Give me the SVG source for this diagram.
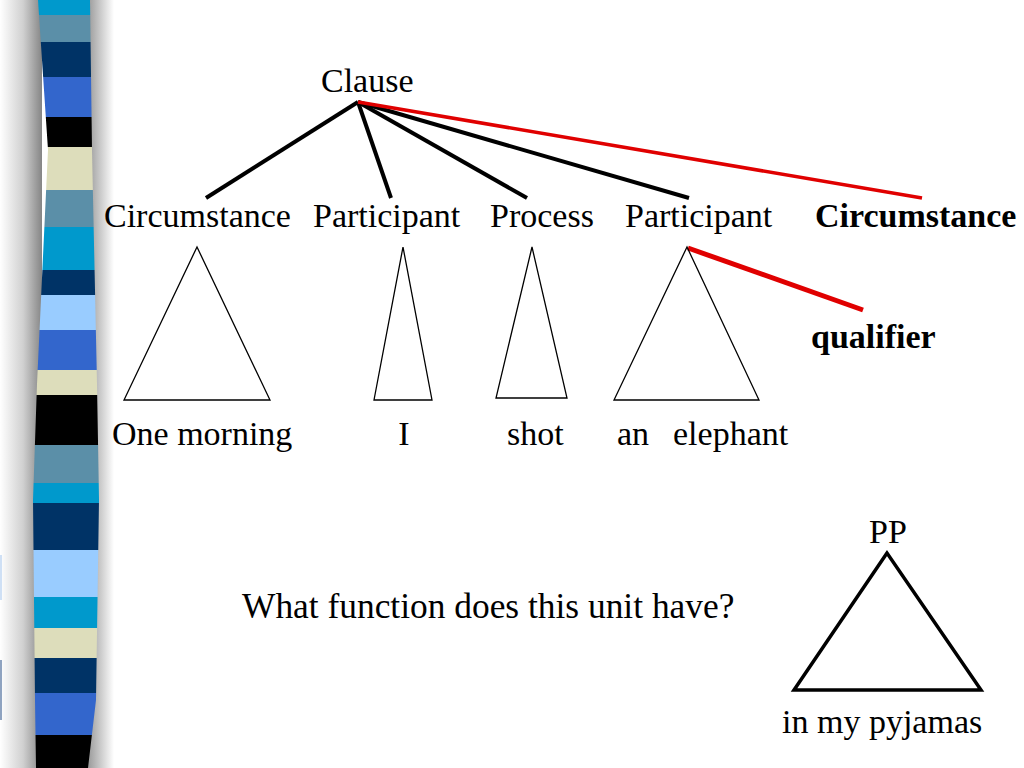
<svg xmlns="http://www.w3.org/2000/svg" width="1024" height="768" viewBox="0 0 1024 768">
<defs>
<style>
text{font-family:"Liberation Serif","Times New Roman","DejaVu Serif",serif;font-size:34px;fill:#000}
.b{font-weight:bold}
.edge{stroke:#000;stroke-width:4;fill:none;stroke-linecap:butt}
.red{stroke:#e00000;fill:none}
.tri{stroke:#000;stroke-width:1.3;fill:none;stroke-linejoin:miter}
</style>
<linearGradient id="shL" x1="0" y1="0" x2="1" y2="0">
<stop offset="0" stop-color="#ffffff"/>
<stop offset="0.55" stop-color="#d0d0d0"/>
<stop offset="1" stop-color="#858585"/>
</linearGradient>
<linearGradient id="shR" x1="0" y1="0" x2="1" y2="0">
<stop offset="0" stop-color="#9a9a9a"/>
<stop offset="1" stop-color="#ffffff"/>
</linearGradient>
<clipPath id="barClip">
<path d="M38,0 L90,0 L92,150 L97,384 L99,500 L96,700 L88,768 L36,768 L35,700 L33,500 L37,384 L48,150 Z"/>
</clipPath>
</defs>
<rect width="1024" height="768" fill="#ffffff"/>
<g id="bar">
<rect x="0" y="0" width="42" height="768" fill="url(#shL)"/>
<rect x="88" y="0" width="26" height="768" fill="url(#shR)"/>
<rect x="0" y="555" width="2" height="45" fill="#cfe0f5"/>
<rect x="0" y="660" width="2" height="60" fill="#8fa3c0"/>
<g clip-path="url(#barClip)">
<rect x="0" y="0" width="120" height="15" fill="#0099cc"/>
<rect x="0" y="15" width="120" height="27" fill="#5b8fa8"/>
<rect x="0" y="42" width="120" height="35" fill="#003366"/>
<rect x="0" y="77" width="120" height="40" fill="#3366cc"/>
<rect x="0" y="117" width="120" height="30" fill="#000000"/>
<rect x="0" y="147" width="120" height="43" fill="#ddddbb"/>
<rect x="0" y="190" width="120" height="37" fill="#5b8fa8"/>
<rect x="0" y="227" width="120" height="43" fill="#0099cc"/>
<rect x="0" y="270" width="120" height="25" fill="#003366"/>
<rect x="0" y="295" width="120" height="35" fill="#99ccff"/>
<rect x="0" y="330" width="120" height="40" fill="#3366cc"/>
<rect x="0" y="370" width="120" height="25" fill="#ddddbb"/>
<rect x="0" y="395" width="120" height="50" fill="#000000"/>
<rect x="0" y="445" width="120" height="38" fill="#5b8fa8"/>
<rect x="0" y="483" width="120" height="20" fill="#0099cc"/>
<rect x="0" y="503" width="120" height="47" fill="#003366"/>
<rect x="0" y="550" width="120" height="47" fill="#99ccff"/>
<rect x="0" y="597" width="120" height="31" fill="#0099cc"/>
<rect x="0" y="628" width="120" height="30" fill="#ddddbb"/>
<rect x="0" y="658" width="120" height="35" fill="#003366"/>
<rect x="0" y="693" width="120" height="42" fill="#3366cc"/>
<rect x="0" y="735" width="120" height="33" fill="#000000"/>
</g>
</g>
<g id="connectors">
<line class="edge" x1="358" y1="102" x2="206" y2="198"/>
<line class="edge" x1="358" y1="102" x2="391" y2="198"/>
<line class="edge" x1="358" y1="102" x2="527" y2="198"/>
<line class="edge" x1="358" y1="102" x2="689" y2="198"/>
<line class="red" stroke-width="3.5" x1="358" y1="102" x2="922" y2="198"/>
<line class="red" stroke-width="5" x1="688" y1="248" x2="863" y2="310"/>
</g>
<g id="clause"><text x="321" y="92">Clause</text></g>
<g id="circ1"><text x="104" y="227">Circumstance</text></g>
<g id="part1"><text x="313" y="227">Participant</text></g>
<g id="proc"><text x="490" y="227">Process</text></g>
<g id="part2"><text x="625" y="227">Participant</text></g>
<g id="circ2"><text class="b" x="815" y="227">Circumstance</text></g>
<g id="qualifier"><text class="b" x="811" y="348">qualifier</text></g>
<g id="tri1"><polygon class="tri" points="197,247 124,400 270,400"/><text x="112" y="445">One morning</text></g>
<g id="tri2"><polygon class="tri" points="403,247 374,400 432,400"/><text x="404" y="445" text-anchor="middle">I</text></g>
<g id="tri3"><polygon class="tri" points="532,247 496,398 567,398"/><text x="507" y="445">shot</text></g>
<g id="tri4"><polygon class="tri" points="687,247 614,400 759,400"/><text x="617" y="445">an<tspan x="673">elephant</tspan></text></g>
<g id="question"><text x="242" y="618" style="font-size:35.4px">What function does this unit have?</text></g>
<g id="pp"><text x="869" y="543">PP</text><polygon points="887,553 794,690 981,690" fill="none" stroke="#000" stroke-width="3.5"/><text x="782" y="733">in my pyjamas</text></g>
</svg>
